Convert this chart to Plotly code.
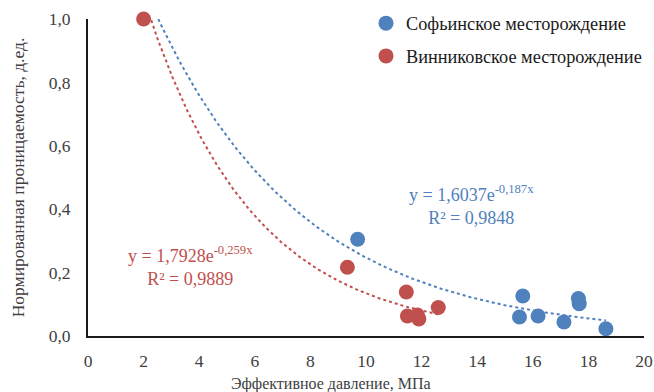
import numpy as np
import plotly.graph_objects as go

# Data
sofia_x = [9.7, 15.64, 15.52, 16.19, 17.12, 17.64, 17.67, 18.63]
sofia_y = [0.305, 0.126, 0.060, 0.063, 0.044, 0.118, 0.102, 0.023]

vinn_x = [2.0, 9.33, 11.45, 11.49, 11.85, 11.9, 12.6]
vinn_y = [1.0, 0.217, 0.139, 0.063, 0.066, 0.054, 0.090]

# Exponential trendline coefficients shown on the chart
sofia_a, sofia_b, sofia_r2 = 1.6037, -0.187, 0.9848
vinn_a, vinn_b, vinn_r2 = 1.7928, -0.259, 0.9889

x_ticks = list(range(0, 21, 2))
y_ticks = [0.0, 0.2, 0.4, 0.6, 0.8, 1.0]

BLUE = "#4F81BD"
RED = "#C0504D"
FONT = "Liberation Serif"
TXT = "#404040"


def trend(a, b, x0, x1):
    xs = np.linspace(x0, x1, 200)
    return xs, a * np.exp(b * xs)


fig = go.Figure()

fig.add_trace(go.Scatter(
    x=sofia_x, y=sofia_y, mode="markers", name="Софьинское месторождение",
    marker=dict(color=BLUE, size=15), cliponaxis=False, legendgroup="a"))
fig.add_trace(go.Scatter(
    x=vinn_x, y=vinn_y, mode="markers", name="Винниковское месторождение",
    marker=dict(color=RED, size=15), cliponaxis=False, legendgroup="b"))

tx, ty = trend(sofia_a, sofia_b, 2.0, max(sofia_x))
fig.add_trace(go.Scatter(x=tx, y=ty, mode="lines", showlegend=False,
                         line=dict(color=BLUE, width=2, dash="dot"), hoverinfo="skip"))
tx, ty = trend(vinn_a, vinn_b, 2.0, max(vinn_x))
fig.add_trace(go.Scatter(x=tx, y=ty, mode="lines", showlegend=False,
                         line=dict(color=RED, width=2, dash="dot"), hoverinfo="skip"))


def eq_text(a, b, r2):
    fa = f"{a:.4f}".replace(".", ",")
    fb = f"{b:.3f}".replace(".", ",")
    fr = f"{r2:.4f}".replace(".", ",")
    return f"y = {fa}e<sup>{fb}x</sup><br>R² = {fr}"


fig.add_annotation(x=13.8, y=0.412, xref="x", yref="y", text=eq_text(sofia_a, sofia_b, sofia_r2),
                   showarrow=False, font=dict(family=FONT, size=18, color=BLUE), align="center")
fig.add_annotation(x=3.69, y=0.222, xref="x", yref="y", text=eq_text(vinn_a, vinn_b, vinn_r2),
                   showarrow=False, font=dict(family=FONT, size=18, color=RED), align="center")

# x-axis title (placed as in the reference, left of the plot centre)
fig.add_annotation(x=(331 - 88) / (654 - 88 - 10), y=-0.152, xref="paper", yref="paper",
                   text="Эффективное давление, МПа",
                   showarrow=False, font=dict(family=FONT, size=16, color=TXT),
                   xanchor="center", yanchor="middle")

fig.update_layout(
    width=654, height=392,
    margin=dict(l=88, r=10, t=19, b=56, autoexpand=False),
    paper_bgcolor="white", plot_bgcolor="white",
    separators=", ",
    font=dict(family=FONT, size=17.5, color=TXT),
    showlegend=True,
    legend=dict(x=0.50, y=1.045, xanchor="left", yanchor="top",
                font=dict(family=FONT, size=18.3, color="#1a1a1a"),
                bgcolor="rgba(0,0,0,0)", tracegroupgap=6, itemwidth=30),
    xaxis=dict(range=[0, 20], tickvals=x_ticks, showgrid=False, zeroline=False,
               showline=True, linecolor="#1a1a1a", linewidth=2, ticks="",
               tickfont=dict(family=FONT, size=17.5, color=TXT),
               ticklabelstandoff=8),
    yaxis=dict(range=[0, 1], tickvals=y_ticks, tickformat=".1f", showgrid=False,
               zeroline=False, showline=True, linecolor="#1a1a1a", linewidth=2, ticks="",
               tickfont=dict(family=FONT, size=17.5, color=TXT),
               ticklabelstandoff=12,
               title=dict(text="Нормированная проницаемость, д.ед.", standoff=20,
                          font=dict(family=FONT, size=17.5, color=TXT))),
)

fig.write_html("out.html")
